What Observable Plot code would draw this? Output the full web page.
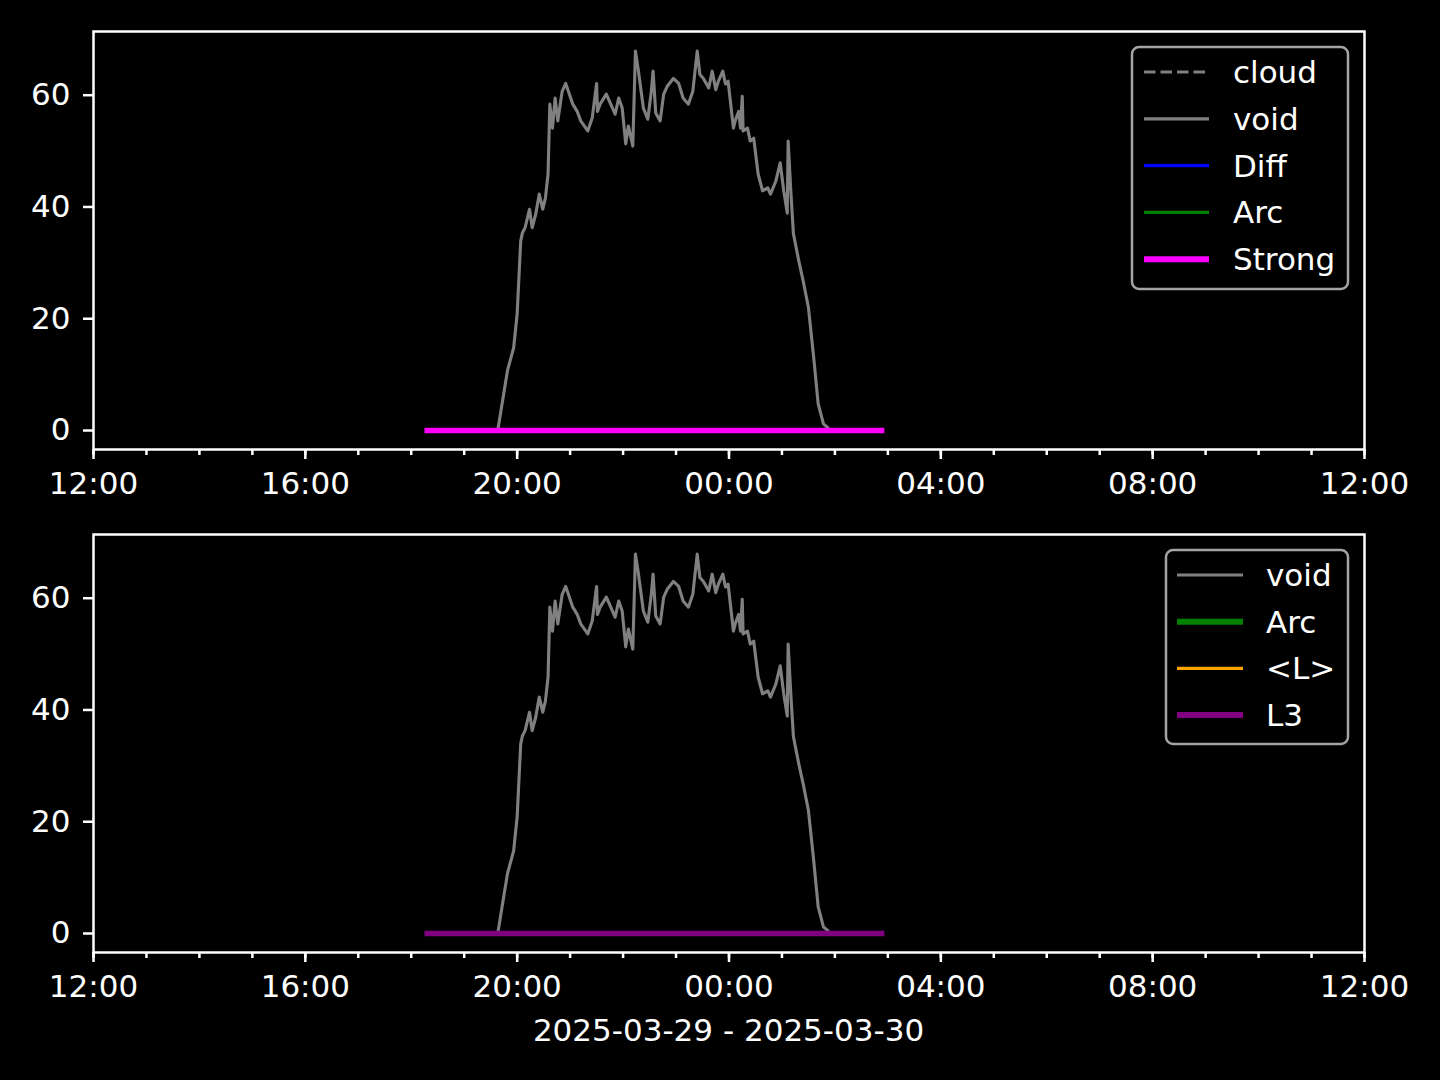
<!DOCTYPE html>
<html>
<head>
<meta charset="utf-8">
<script src="https://cdn.jsdelivr.net/npm/d3@7"></script>
<script src="https://cdn.jsdelivr.net/npm/@observablehq/plot@0.6"></script>
<style>
  html, body { margin: 0; padding: 0; background: #000; }
  #page { position: relative; width: 1440px; height: 1080px; background: #000; overflow: hidden; font-family: "DejaVu Sans", sans-serif; }
  .panel { position: absolute; left: 0; }
  #overlay { position: absolute; left: 0; top: 0; pointer-events: none; }
</style>
</head>
<body>
<div id="page"></div>
<script>
// ---------- data ----------
const dateCaption = "2025-03-29 - 2025-03-30";
const xTickLabels = ["12:00", "16:00", "20:00", "00:00", "04:00", "08:00", "12:00"];
const yTicks = [0, 20, 40, 60];

// "void" series (same in both panels)
const voidTimes = [
  "19:38","19:49","19:56","20:00","20:04","20:06","20:09","20:14","20:17","20:21",
  "20:25","20:29","20:32","20:35","20:37","20:40","20:43","20:46","20:51","20:55",
  "20:58","21:03","21:08","21:12","21:20","21:25","21:30","21:31","21:34","21:41",
  "21:46","21:51","21:55","21:59","22:03","22:06","22:11","22:14","22:17","22:23",
  "22:28","22:32","22:34","22:37","22:42","22:46","22:50","22:57","23:03","23:08",
  "23:14","23:19","23:24","23:27","23:31","23:37","23:41","23:45","23:48","23:53",
  "23:56","23:59","00:05","00:07","00:11","00:13","00:15","00:16","00:21","00:24",
  "00:28","00:33","00:38","00:44","00:47","00:53","00:58","01:02","01:06","01:07",
  "01:10","01:13","01:19","01:24","01:30","01:36","01:41","01:47","01:52"
];
const voidValues = [
  0.0,10.7,14.8,20.9,33.9,35.4,36.3,39.6,36.3,38.7,
  42.3,39.6,41.6,45.9,58.4,54.1,59.5,55.4,60.7,62.1,
  60.7,58.4,57.1,55.4,53.6,55.9,62.1,57.1,58.4,60.2,
  58.4,56.6,59.5,57.7,51.3,54.5,50.9,67.9,64.8,57.7,
  55.7,60.7,64.3,56.8,55.4,60.2,61.6,63.0,62.1,59.5,
  58.4,60.7,67.9,63.7,63.0,61.3,64.3,61.0,62.5,64.3,
  62.0,62.5,54.1,55.4,57.1,54.1,59.8,53.6,54.1,51.8,
  52.3,45.9,42.9,43.4,42.3,44.6,47.9,42.9,38.9,51.8,
  42.9,35.2,30.4,26.8,22.0,13.0,4.8,1.2,0.5
];
// "Strong" (top panel) and "L3" (bottom panel)
const strongTimes = ["18:15", "02:56"];
const strongValues = [0, 0];
const l3Times = ["18:15", "02:56"];
const l3Values = [0, 0];

// legend entries
const topLegendLabels = ["cloud", "void", "Diff", "Arc", "Strong"];
const topLegendColors = ["#808080", "#808080", "#0000ff", "#008000", "#ff00ff"];
const topLegendWidths = [3.2, 3.2, 3.2, 3.2, 6];
const topLegendDash = ["11.5,5", null, null, null, null];
const bottomLegendLabels = ["void", "Arc", "<L>", "L3"];
const bottomLegendColors = ["#808080", "#008000", "#ffa500", "#800080"];
const bottomLegendWidths = [3.2, 6, 3.2, 6];

// ---------- helpers ----------
const START = new Date(Date.UTC(2025, 2, 29, 12));
const END = new Date(Date.UTC(2025, 2, 30, 12));
function toDate(hhmm) {
  const [h, m] = hhmm.split(":").map(Number);
  const day = h >= 12 ? 29 : 30;
  return new Date(Date.UTC(2025, 2, day, h, m));
}
const zip = (ts, vs) => ts.map((t, i) => ({t: toDate(t), v: vs[i]}));
const voidData = zip(voidTimes, voidValues);
const strongData = zip(strongTimes, strongValues);
const l3Data = zip(l3Times, l3Values);

const majorTicks = d3.utcHour.every(4).range(START, new Date(+END + 1));
const labelMap = new Map(majorTicks.map((d, i) => [+d, xTickLabels[i]]));

function makePanel(topLine) {
  return Plot.plot({
    width: 1440, height: 520,
    marginLeft: 93, marginRight: 76, marginTop: 31, marginBottom: 71,
    style: {background: "transparent", color: "white", fontFamily: "DejaVu Sans", fontSize: "31px", overflow: "visible"},
    x: {type: "utc", domain: [START, END]},
    y: {domain: [-3.4, 71.4]},
    marks: [
      Plot.axisX({ticks: d3.utcHour.every(1), tickSize: 6, tickFormat: () => "", stroke: "white", strokeWidth: 2.5, label: null}),
      Plot.axisX({ticks: majorTicks, tickSize: 10, tickPadding: 12, tickFormat: d => labelMap.get(+d), fontSize: 31, fill: "white", stroke: "white", strokeWidth: 2.5, label: null}),
      Plot.axisY({ticks: yTicks, tickSize: 10, tickPadding: 13, fontSize: 31, fill: "white", stroke: "white", strokeWidth: 2.5, label: null}),
      Plot.line(voidData, {x: "t", y: "v", stroke: "#808080", strokeWidth: 3.1, strokeLinejoin: "round"}),
      Plot.line(topLine.data, {x: "t", y: "v", stroke: topLine.color, strokeWidth: 5.6, strokeLinecap: "butt"}),
      Plot.frame({stroke: "white", strokeWidth: 2.5})
    ]
  });
}

const page = document.getElementById("page");
const p1 = makePanel({data: strongData, color: "#ff00ff"});
p1.classList.add("panel"); p1.style.top = "0px";
page.appendChild(p1);
const p2 = makePanel({data: l3Data, color: "#800080"});
p2.classList.add("panel"); p2.style.top = "503px";
page.appendChild(p2);

// ---------- overlay: legends and caption ----------
const ov = d3.select(page).append("svg").attr("id", "overlay")
  .attr("width", 1440).attr("height", 1080)
  .style("font-family", "DejaVu Sans").style("font-size", "31px");

function legend(x0, y0, w, h, labels, colors, widths, dashes, firstRowY, rowStep, handleX0, handleX1, textX) {
  const g = ov.append("g");
  g.append("rect").attr("x", x0).attr("y", y0).attr("width", w).attr("height", h)
    .attr("rx", 7).attr("fill", "#000").attr("stroke", "#a3a3a3").attr("stroke-width", 2.5);
  labels.forEach((lab, i) => {
    const cy = firstRowY + i * rowStep;
    const ln = g.append("line").attr("x1", handleX0).attr("x2", handleX1).attr("y1", cy).attr("y2", cy)
      .attr("stroke", colors[i]).attr("stroke-width", widths[i]);
    if (dashes && dashes[i]) ln.attr("stroke-dasharray", dashes[i]);
    g.append("text").attr("x", textX).attr("y", cy + 11).attr("fill", "white").text(lab);
  });
}
legend(1132, 47, 216, 242, topLegendLabels, topLegendColors, topLegendWidths, topLegendDash, 72, 46.8, 1144, 1209, 1233);
legend(1166, 550, 182, 194, bottomLegendLabels, bottomLegendColors, bottomLegendWidths, null, 575, 46.7, 1177, 1243, 1266);

ov.append("text").attr("x", 728.5).attr("y", 1041).attr("text-anchor", "middle")
  .attr("fill", "white").text(dateCaption);
</script>
</body>
</html>
